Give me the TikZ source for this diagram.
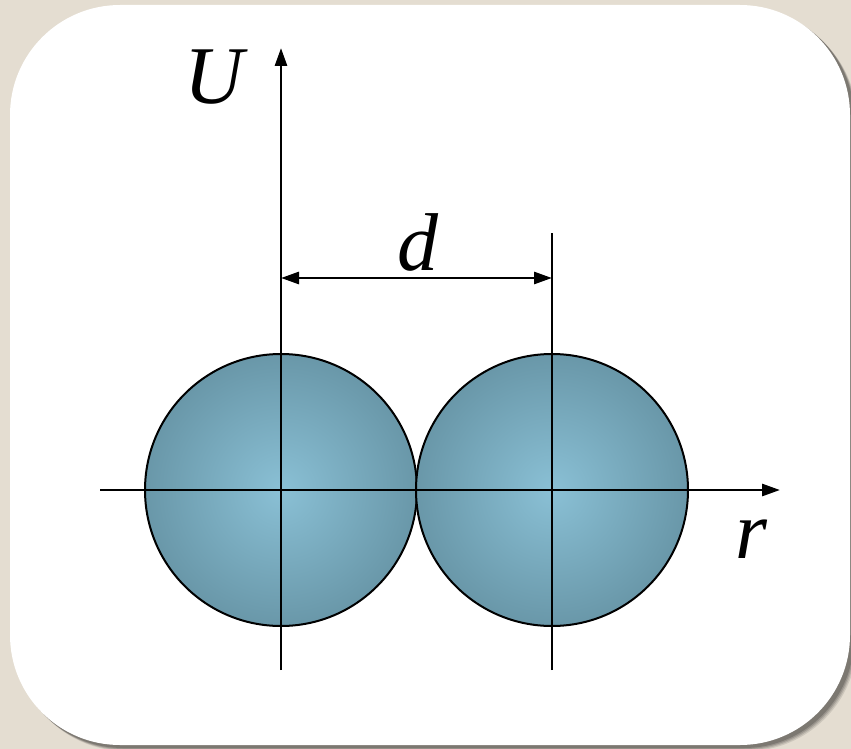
\documentclass[tikz,border=0pt]{standalone}
\usepackage{fontspec}
\setmainfont{Liberation Serif}
\usetikzlibrary{arrows.meta}
\definecolor{bgbeige}{HTML}{E4DDD1}
\definecolor{ballin}{HTML}{8AC0D5}
\definecolor{ballout}{HTML}{5C8797}
\pgfdeclareradialshading{ball}{\pgfpoint{0bp}{0bp}}{color(0bp)=(ballin); color(35bp)=(ballout); color(50bp)=(ballout)}
\begin{document}
\begin{tikzpicture}[x=1pt,y=-1pt,
  axis/.style={line width=2.8pt,-{Triangle[length=18pt,width=12pt]}},
  plainline/.style={line width=2.8pt},
  dimarrow/.style={line width=2.8pt,{Triangle[length=18pt,width=12pt]}-{Triangle[length=18pt,width=12pt]}},
  ballstyle/.style={circle,minimum size=272pt,inner sep=0pt,draw=black,line width=2pt,shading=ball},
  lbl/.style={inner sep=0pt,font=\fontsize{82}{98}\selectfont\itshape}]
\useasboundingbox (0,0) rectangle (851,749);
\fill[bgbeige] (0,0) rectangle (851,749);
% shadow
\foreach \o/\op in {6/0.10,5/0.12,4/0.15,3/0.18}
  \fill[black,opacity=\op,rounded corners=110pt] (10+\o,5+\o) rectangle (851+\o,745+\o);
\fill[white,rounded corners=110pt] (10,5) rectangle (850,745);
% balls
\node[ballstyle] (b1) at (281,490) {};
\node[ballstyle] (b2) at (552,490) {};
% axes
\coordinate (ybot) at (281,670);
\coordinate (ytop) at (281,48);
\coordinate (xl) at (100,490);
\coordinate (xr) at (780,490);
\coordinate (vtop) at (552,233);
\coordinate (vbot) at (552,670);
\coordinate (dl) at (281,278);
\coordinate (dr) at (552,278);
\draw[axis] (ybot) -- (ytop);
\draw[axis] (xl) -- (xr);
\draw[plainline] (vbot) -- (vtop);
\draw[dimarrow] (dl) -- (dr);
% labels
\node[lbl] (U) at (214,77) {U};
\node[lbl] (d) at (418,242) {d};
\node[lbl] (r) at (751,539) {r};
\end{tikzpicture}
\end{document}
